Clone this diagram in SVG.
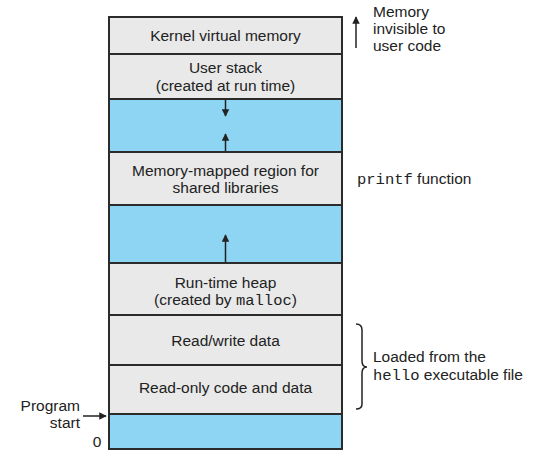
<svg xmlns="http://www.w3.org/2000/svg" width="536" height="458" viewBox="0 0 536 458">
<style>
.g{fill:#e9e9e9;stroke:#2b2b2b;stroke-width:2}
.b{fill:#8dd5f3;stroke:#2b2b2b;stroke-width:2}
text{font-family:"Liberation Sans",Arial,sans-serif;font-size:15.5px;fill:#222}
.c{text-anchor:middle}
.m{font-family:"Liberation Mono","Courier New",monospace}
.ln{stroke:#222;stroke-width:1.5;fill:none}
</style>
<defs>
<marker id="ah" viewBox="0 0 10 10" refX="9" refY="5" markerWidth="5" markerHeight="5" orient="auto"><path d="M0,0 L10,5 L0,10 z" fill="#222"/></marker>
</defs>
<g id="kernel"><rect class="g" x="109" y="17" width="233" height="37"/><text class="c" x="225.5" y="41">Kernel virtual memory</text></g>
<g id="stack"><rect class="g" x="109" y="54" width="233" height="45"/><text class="c" x="225.5" y="73">User stack</text><text class="c" x="225.5" y="91">(created at run time)</text></g>
<g id="gap1"><rect class="b" x="109" y="99" width="233" height="53"/></g>
<g id="mmap"><rect class="g" x="109" y="152" width="233" height="53"/><text class="c" x="225.5" y="176">Memory-mapped region for</text><text class="c" x="225.5" y="193">shared libraries</text></g>
<g id="gap2"><rect class="b" x="109" y="205" width="233" height="58"/></g>
<g id="heap"><rect class="g" x="109" y="263" width="233" height="52"/><text class="c" x="225.5" y="288">Run-time heap</text><text class="c" x="225.5" y="305">(created by <tspan class="m">malloc</tspan>)</text></g>
<g id="rw"><rect class="g" x="109" y="315" width="233" height="50"/><text class="c" x="225.5" y="346">Read/write data</text></g>
<g id="ro"><rect class="g" x="109" y="365" width="233" height="49"/><text class="c" x="225.5" y="393">Read-only code and data</text></g>
<g id="gap0"><rect class="b" x="109" y="414" width="233" height="35"/></g>
<g id="connectors">
<line class="ln" x1="225.5" y1="100" x2="225.5" y2="116" marker-end="url(#ah)"/>
<line class="ln" x1="225.5" y1="151" x2="225.5" y2="134" marker-end="url(#ah)"/>
<line class="ln" x1="225.5" y1="262" x2="225.5" y2="235" marker-end="url(#ah)"/>
<line class="ln" x1="356" y1="48" x2="356" y2="17" marker-end="url(#ah)"/>
<line class="ln" x1="83" y1="416" x2="106" y2="416" marker-end="url(#ah)"/>
<path class="ln" d="M356,324 Q362,324 362,330 L362,361 Q362,367 367,367 Q362,367 362,373 L362,404 Q362,409 356,409"/>
</g>
<g id="labels">
<text x="373" y="17">Memory</text>
<text x="373" y="34">invisible to</text>
<text x="373" y="51">user code</text>
<text x="357" y="184"><tspan class="m">printf</tspan> function</text>
<text x="373" y="362">Loaded from the</text>
<text x="373" y="380"><tspan class="m">hello</tspan> executable file</text>
<text x="80" y="411" text-anchor="end">Program</text>
<text x="80" y="428" text-anchor="end">start</text>
<text x="97" y="447" text-anchor="middle">0</text>
</g>
</svg>
